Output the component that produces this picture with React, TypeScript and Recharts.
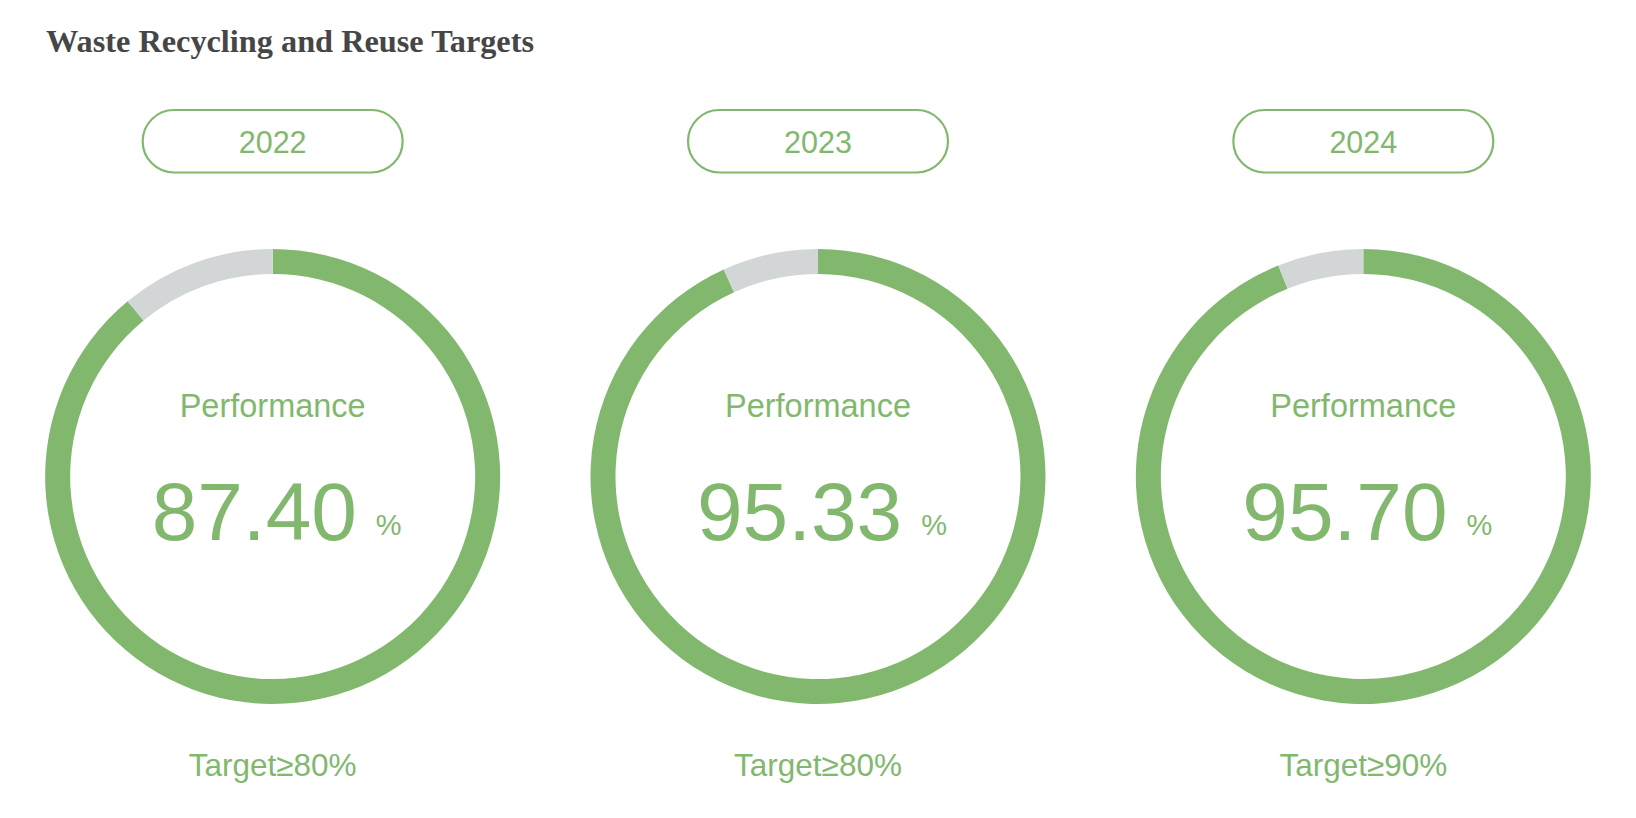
import React from 'react';
import { PieChart, Pie, Cell } from 'recharts';

const years = ['2022', '2023', '2024'];
const performance = [87.4, 95.33, 95.7];
// share of each ring drawn green
const ringProgress = [89.0, 93.2, 93.9];
const targets = ['Target≥80%', 'Target≥80%', 'Target≥90%'];
const title = 'Waste Recycling and Reuse Targets';
const centerLabel = 'Performance';

const W = 1636;
const H = 818;
const GREEN = '#82b86e';
const GRAY = '#d3d6d7';
const CY = 476.5;

const colCenter = (i: number) => (W / 3) * i + W / 6;

export default function App() {
  const font = '"Liberation Sans", Arial, Helvetica, sans-serif';
  return (
    <div style={{ position: 'absolute', left: 0, top: 0, width: W, height: H, background: '#fff' }}>
      <PieChart width={W} height={H} margin={{ top: 0, right: 0, bottom: 0, left: 0 }}>
        {ringProgress.map((p, i) => (
          <Pie
            key={years[i]}
            data={[
              { name: centerLabel, value: p },
              { name: 'Remaining', value: 100 - p },
            ]}
            dataKey="value"
            cx={colCenter(i)}
            cy={CY}
            innerRadius={202.5}
            outerRadius={227.5}
            startAngle={90}
            endAngle={-270}
            stroke="none"
            isAnimationActive={false}
          >
            <Cell fill={GREEN} />
            <Cell fill={GRAY} />
          </Pie>
        ))}
      </PieChart>
      <svg
        width={W}
        height={H}
        style={{ position: 'absolute', left: 0, top: 0, pointerEvents: 'none' }}
      >
        <text
          x={46}
          y={52}
          fontFamily='"Liberation Serif", "Times New Roman", serif'
          fontWeight="bold"
          fontSize={32.3}
          fill="#464646"
        >
          {title}
        </text>
        {years.map((y, i) => {
          const cx = colCenter(i);
          return (
            <g key={y}>
              <rect
                x={cx - 130}
                y={110}
                width={260}
                height={62.5}
                rx={31.25}
                ry={31.25}
                fill="none"
                stroke={GREEN}
                strokeWidth={2.2}
              />
              <text x={cx} y={153} textAnchor="middle" fontFamily={font} fontSize={30.5} fill={GREEN}>
                {y}
              </text>
              <text x={cx} y={416.5} textAnchor="middle" fontFamily={font} fontSize={32.5} fill={GREEN}>
                {centerLabel}
              </text>
              <text x={cx + 4} y={540} textAnchor="middle" fontFamily={font} fill={GREEN}>
                <tspan fontSize={82}>{performance[i].toFixed(2)}</tspan>
                <tspan fontSize={29} dx={19} dy={-5}>%</tspan>
              </text>
              <text x={cx} y={776} textAnchor="middle" fontFamily={font} fontSize={31.5} fill={GREEN}>
                {targets[i]}
              </text>
            </g>
          );
        })}
      </svg>
    </div>
  );
}
